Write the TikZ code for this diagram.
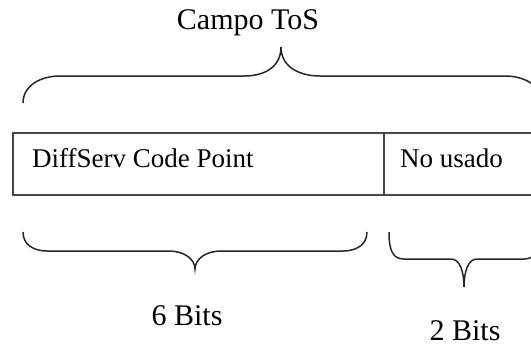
\documentclass[tikz,border=0pt]{standalone}
\usepackage{fontspec}
\setmainfont{Liberation Serif}
\begin{document}
\begin{tikzpicture}[x=1pt,y=-1pt,
  brace/.style={draw=black!85, line width=1.5pt},
  cell/.style={draw=black!72, line width=2.2pt, inner sep=0pt, outer sep=0pt, anchor=north west},
  celltext/.style={font=\fontsize{27}{32}\selectfont, inner sep=0pt, anchor=base west},
  bracetext/.style={font=\fontsize{30}{36}\selectfont, inner sep=0pt, anchor=base}]
\useasboundingbox (0,0) rectangle (531,346);
\clip (0,0) rectangle (531,346);

% the ToS byte: two fields
\node[cell, minimum width=371pt, minimum height=62pt] (dscp) at (13,133) {};
\node[cell, minimum width=170pt, minimum height=62pt] (unused) at (dscp.north east) {};
\node[celltext] (dscpText) at (32,167.5) {DiffServ Code Point};
\node[celltext] (unusedText) at (400,167) {No usado};

% brace over the whole byte
\draw[brace] (23,103) .. controls (23,86) and (40,76) .. (60,76) -- (244,76)
  .. controls (266,76) and (281,66) .. (281,47)
  .. controls (281,66) and (298,76) .. (320,76) -- (505,76)
  .. controls (525,76) and (542,86) .. (542,103);
\node[bracetext] (tos) at (248,29.5) {Campo ToS};

% brace under the DSCP field
\draw[brace] (23,232) .. controls (23,245) and (34,251) .. (47,251) -- (169,251)
  .. controls (184,251) and (195,259) .. (195,269)
  .. controls (195,259) and (206,251) .. (221,251) -- (343,251)
  .. controls (356,251) and (367,245) .. (367,232);
\node[bracetext] (six) at (187,325) {6 Bits};

% brace under the unused bits
\draw[brace] (389,232) .. controls (389,251) and (393,259) .. (404,259) -- (451,259)
  .. controls (460,259) and (464,272) .. (464,287)
  .. controls (464,272) and (468,259) .. (477,259) -- (524,259)
  .. controls (535,259) and (539,251) .. (539,232);
\node[bracetext] (two) at (465,340) {2 Bits};
\end{tikzpicture}
\end{document}
